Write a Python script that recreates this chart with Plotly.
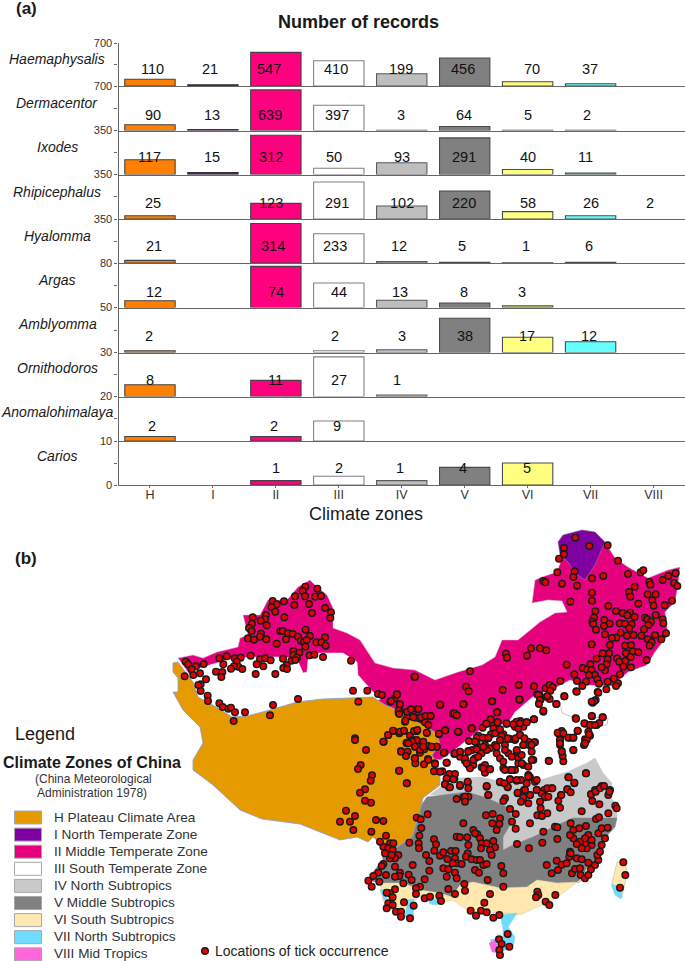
import numpy as np
import plotly.graph_objects as go

# ---------- part (a): records per genus and climate zone ----------
ZONES = ["H", "I", "II", "III", "IV", "V", "VI", "VII", "VIII"]
ZONE_COLORS = ["#ff8000", "#7f00a0", "#ff007f", "#ffffff", "#bebebe", "#808080", "#ffff80", "#66ffff", "rgba(0,0,0,0)"]
ZONE_EDGES = ["#444444", "#333333", "#444444", "#808080", "#5a5a5a", "#4a4a4a", "#4a4a4a", "#4a4a4a", "rgba(0,0,0,0)"]
GENERA = ["Haemaphysalis", "Dermacentor", "Ixodes", "Rhipicephalus", "Hyalomma", "Argas",
          "Amblyomma", "Ornithodoros", "Anomalohimalaya", "Carios"]
N = None
RECORDS = [
    [110, 21, 547, 410, 199, 456, 70, 37, N],
    [90, 13, 639, 397, 3, 64, 5, 2, N],
    [117, 15, 312, 50, 93, 291, 40, 11, N],
    [25, N, 123, 291, 102, 220, 58, 26, 2],
    [21, N, 314, 233, 12, 5, 1, 6, N],
    [12, N, 74, 44, 13, 8, 3, N, N],
    [2, N, N, 2, 3, 38, 17, 12, N],
    [8, N, 11, 27, 1, N, N, N, N],
    [2, N, 2, 9, N, N, N, N, N],
    [N, N, 1, 2, 1, 4, 5, N, N],
]
AXIS_TOPS = [700, 700, 350, 350, 350, 80, 50, 30, 20, 10]

# layout of the panels, in page pixels
W, H = 685, 961
PLOT_LEFT = 118.5
PANEL_EDGES = [43, 86, 130.5, 174.5, 219, 263, 307.5, 352.5, 396.5, 441, 485]
LABEL_ROWS = [69, 115, 157, 203, 246, 292, 336, 380, 426, 468]
GENUS_ROWS = [59, 103, 147, 192, 236, 280, 324, 368, 412, 456]
LABEL_SHIFTS = [
    [3, -3, -7, -2.5, -1, -1.5, 4, -1, 0],
    [3, -1, -6, -2, -1, -1, 0, -4, 0],
    [0, -1, -5, -5, 0, -1, 0, -5, 0],
    [3, 0, -5, -2, 0, -1, 0, 0, -4],
    [4, 0, -3, -4, -3, -3, -2, -2, 0],
    [4, 0, 0, 0, -2, -1, -6, 0, 0],
    [-1, 0, 0, -4, 0, 0, -1, -2, 0],
    [0, 0, 0, 0, -5, 0, 0, 0, 0],
    [2, 0, -2, -2, 0, 0, 0, 0, 0],
    [0, 0, 0, 0, -2, -2, -1, 0, 0],
]

# ---------- part (b): map zones, traced in map units ----------
ZONE_II = [(178,658),(193,655),(203,658),(217,652),(238,647),(240,638),(248,635),(243,615),(260,615),(268,600),
           (287,600),(298,587),(310,580),(315,585),(327,595),(333,608),(333,628),(347,633),(360,640),(368,652),
           (375,663),(393,668),(415,670),(435,680),(458,672),(482,665),(495,657),(502,640),(518,640),(540,622),
           (555,613),(567,612),(562,601),(548,600),(532,603),(535,580),(542,577),(557,572),(562,558),(558,542),
           (563,535),(582,530),(595,532),(605,542),(615,558),(628,567),(648,578),(668,570),(680,567),(678,585),
           (675,602),(665,612),(668,635),(655,652),(647,665),(628,672),(612,686),(585,685),(570,680),(555,688),
           (535,695),(515,712),(508,723),(482,728),(465,742),(452,752),(440,760),(430,758),(300,720),(190,675)]
ZONE_I = [(558,542),(563,535),(582,530),(595,532),(605,542),(595,565),(585,580),(575,573),(568,562),(560,555)]
ZONE_III_WEST = [(190,672),(203,667),(227,660),(250,657),(283,657),(297,659),(303,673),(307,672),(308,660),(317,653),
                 (343,653),(357,662),(358,675),(373,692),(382,698),(340,720),(230,730)]
ZONE_H = [(173,663),(178,662),(193,682),(198,697),(218,708),(232,717),(247,716),(270,710),(297,702),(323,699),
          (350,698),(373,697),(385,705),(402,712),(415,720),(427,728),(437,733),(440,745),(432,755),(440,770),
          (440,785),(423,798),(422,803),(418,818),(412,837),(397,847),(380,843),(373,837),(368,842),(357,837),
          (340,840),(320,832),(300,824),(262,819),(240,810),(213,785),(193,770),(193,760),(203,743),(200,727),
          (183,710),(173,692),(178,692),(178,678),(173,672)]
ZONE_IV = [(430,795),(440,787),(457,778),(480,777),(510,783),(540,780),(567,772),(587,763),(595,758),(603,773),
           (612,783),(610,797),(617,805),(617,818),(573,818),(553,827),(533,837),(513,845),(503,850),(503,837),
           (513,820),(507,807),(487,798),(467,792),(447,795)]
ZONE_V = [(420,807),(427,797),(467,792),(487,798),(507,807),(513,820),(503,837),(503,850),(513,845),(533,837),
          (553,827),(573,818),(617,818),(615,827),(603,840),(600,857),(588,868),(580,882),(557,883),(537,880),
          (527,887),(500,888),(473,882),(460,885),(452,897),(440,893),(420,890),(413,887),(403,883),(380,883),
          (368,880),(373,872),(383,860),(380,843),(397,847),(412,837)]
ZONE_VI = [(380,883),(403,883),(413,887),(420,890),(440,893),(452,897),(460,885),(473,882),(500,888),(527,887),
           (537,880),(557,883),(580,882),(588,866),(590,870),(580,880),(567,890),(553,900),(537,907),(520,915),
           (500,913),(487,912),(470,912),(453,900),(440,903),(433,898),(417,897),(413,907),(413,920),(405,917),
           (390,910),(383,900)]
ZONE_VI_ISLAND = [(617,862),(625,860),(627,873),(622,898),(612,883)]
ZONE_VII_PATCHES = [
    [(380,890),(385,889),(387,900),(384,900)],
    [(408,900),(414,899),(413,920),(405,917)],
    [(428,900),(438,899),(438,905),(430,904)],
    [(500,915),(517,913),(508,927),(515,937),(513,947),(500,952),(490,940),(503,937),(503,928)],
    [(611,884),(617,886),(622,892),(621,899),(615,895)],
]
ZONE_VIII = [(489,943),(495,940),(500,953),(492,952)]
COAST_LINES = [[(560,702),(562,713),(572,717),(575,713)], [(588,717),(608,718),(607,725),(595,726)]]

LEGEND_TITLES = ["H Plateau Climate Area", "I North Temperate Zone", "II Middle Temperate Zone",
                 "III South Temperate Zone", "IV North Subtropics", "V Middle Subtropics",
                 "VI South Subtropics", "VII North Subtropics", "VIII Mid Tropics"]
MAP_COLORS = ["#e59a00", "#7f00a0", "#e6007e", "#ffffff", "#c9c9c9", "#808080", "#ffe7ad", "#70dcff", "#ff66dd"]

# tick record locations, one list per sheet (sheet units = map units x 3)
SHEET_NW = [(466,185),(458,198),(502,191),(435,214),(465,214),(495,215),(513,213),(402,229),(368,228),(380,238),(365,246),(376,260),(433,240),(477,237),(525,249),(486,264),(543,262),(541,279),(403,277),(348,270),(345,282),(332,287),(308,277),(306,296),(350,301),(297,309),(305,318),(333,326),(391,318),(398,318),(414,325),(428,327),(467,314),(444,335),(480,333),(294,340),(312,344),(330,335),(349,343),(408,343),(453,347),(462,350),(470,345),(525,337),(499,352),(514,352),(527,362),(380,356),(466,365),(430,378),(448,383),(430,390),(302,392),(230,394),(208,400),(254,400),(272,398),(330,402),(345,400),(362,406),(399,401),(441,398),(479,391),(493,389),(519,396),(603,407),(107,410),(115,418),(138,424),(161,417),(220,418),(260,410),(320,418),(340,424),(424,407),(436,405),(410,420),(265,425),(252,424),(243,431),(277,432),(125,433),(150,445),(130,450),(217,441),(198,440),(214,456),(317,447),(376,447),(400,429),(411,432),(104,454),(168,463),(152,478),(145,480),(152,498),(609,497),(652,497),(684,507),(696,510),(173,512),(174,528),(208,535),(218,546),(235,551),(243,548),(255,562),(285,562),(369,540),(444,522),(625,530),(721,530),(733,521),(740,508),(749,539),(750,558),(746,564),(772,562),(803,553),(765,590),(772,575),(792,576),(360,571),(251,588),(793,455),(615,640),(701,650),(715,630),(730,618),(748,625),(761,618),(780,632),(800,618),(788,645),(800,650),(770,655)]
SHEET_NE = [(481,38),(523,63),(578,61),(447,69),(447,88),(432,101),(609,107),(427,142),(479,139),(475,156),(385,168),(391,172),(441,176),(486,182),(531,160),(565,153),(639,147),(677,142),(685,136),(782,145),(760,153),(743,165),(703,171),(706,179),(777,174),(787,183),(659,185),(642,201),(646,215),(698,208),(722,208),(531,203),(531,227),(466,230),(712,226),(716,242),(771,227),(749,241),(670,236),(580,243),(541,258),(603,258),(623,264),(645,263),(637,271),(659,276),(722,270),(537,278),(532,290),(535,297),(568,285),(584,296),(567,303),(614,295),(630,296),(650,298),(643,310),(690,278),(697,283),(708,290),(700,300),(743,283),(745,295),(687,313),(543,314),(570,328),(636,332),(617,323),(604,338),(591,339),(656,330),(679,332),(720,330),(753,325),(698,342),(739,343),(710,352),(704,362),(530,358),(585,360),(630,362),(648,360),(633,385),(654,379),(670,382),(348,370),(375,370),(394,376),(336,392),(273,386),(276,398),(563,385),(583,385),(578,403),(545,401),(606,400),(631,408),(647,396),(613,410),(695,405),(455,419),(526,418),(503,429),(516,434),(575,418),(625,425),(648,427),(570,436),(560,427),(530,435),(540,450),(522,450),(478,448),(615,448),(165,439),(0,455),(547,463),(597,461),(486,468),(436,468),(513,470),(552,476),(578,470),(609,475),(603,483),(574,493),(502,483),(153,485),(161,499),(263,495),(311,480),(357,484),(392,490),(404,480),(413,487),(406,497),(484,499),(548,501),(374,510),(366,508),(395,516),(404,522),(448,514),(314,524),(232,529),(146,538),(76,539),(10,552),(376,525),(372,535),(424,537),(542,525),(533,533),(385,560),(247,562),(114,566),(125,571),(47,574),(30,574),(17,581),(3,578),(482,580),(531,574),(563,577),(357,583),(227,584),(215,596),(203,608),(170,610),(91,616),(72,628),(131,621),(36,624),(5,618),(248,592),(275,597),(303,593),(316,588),(335,592),(300,605),(510,596),(527,600),(545,600),(553,594),(240,615),(228,628),(265,628),(315,630),(285,642),(300,645),(340,650),(360,652),(440,618),(430,625),(488,618),(436,640),(465,638),(475,638),(520,620),(510,643),(525,632),(190,632),(183,648),(205,638),(220,640)]
SHEET_CENTRE = [(18,33),(36,14),(45,43),(41,62),(67,65),(78,58),(100,57),(85,82),(61,92),(43,72),(108,82),(122,78),(137,78),(120,97),(130,105),(24,122),(9,135),(45,125),(57,122),(87,123),(97,120),(125,128),(162,131),(180,121),(219,125),(260,115),(208,70),(215,76),(165,44),(235,43),(321,34),(336,67),(403,28),(317,88),(304,101),(338,97),(65,158),(95,150),(82,155),(90,170),(105,170),(115,155),(130,168),(118,178),(140,172),(155,170),(105,188),(68,185),(48,183),(63,198),(89,205),(91,220),(117,223),(129,207),(150,220),(185,218),(178,188),(208,192),(225,186),(225,200),(250,183),(240,212),(262,180),(275,178),(252,153),(275,143),(293,143),(310,143),(325,115),(330,130),(345,118),(350,138),(368,145),(392,145),(405,135),(418,145),(360,165),(345,150),(330,165),(315,175),(300,165),(275,158),(290,190),(270,205),(250,225),(265,225),(255,235),(290,232),(300,225),(315,238),(300,248),(335,190),(345,205),(355,215),(370,190),(395,185),(400,205),(410,195),(440,185),(445,210),(415,165),(432,165),(448,157),(400,220),(415,225),(430,230),(375,240),(390,240),(355,235),(430,255),(147,244),(172,244),(42,242),(66,280),(185,267),(208,267),(193,252),(180,283),(192,292),(225,288),(248,278),(305,290),(345,277),(375,268),(395,272),(408,270),(368,292),(435,262),(450,275),(417,300),(398,310),(415,322),(435,315),(456,300),(478,300),(500,295),(547,298),(550,262),(568,280),(603,250),(491,212),(535,214),(565,181),(597,165),(605,150),(533,198),(530,183),(525,165),(525,150),(518,128),(535,130),(550,143),(565,143),(578,122),(598,100),(620,78),(615,105),(630,105),(653,82),(573,86),(612,133),(460,15),(465,30),(462,42),(475,62),(487,18),(514,42),(538,19),(575,5),(640,8),(628,33),(620,35),(310,315),(250,320),(235,322),(650,288),(630,300),(618,313),(675,300),(670,315),(360,325),(528,315),(480,322),(395,95),(415,110),(400,115),(385,103),(365,100),(425,97),(447,88),(405,100)]
SHEET_S = [(78,30),(183,35),(225,55),(265,60),(312,38),(320,68),(285,72),(300,95),(345,102),(340,118),(178,92),(96,106),(92,122),(200,130),(62,75),(54,87),(320,115),(315,133),(330,142),(360,135),(383,125),(385,145),(440,138),(445,165),(350,177),(375,170),(375,185),(75,148),(60,158),(75,182),(93,188),(18,212),(45,228),(30,245),(40,270),(108,240),(130,243),(94,275),(0,245),(263,223),(230,233),(242,238),(244,264),(370,250),(438,226),(458,222),(480,235),(457,250),(478,252),(470,270),(490,183),(510,207),(527,222),(516,245),(527,266),(570,250),(610,275),(645,260),(652,262),(652,297),(607,308),(531,312),(567,325),(238,287),(208,308),(236,310),(237,325),(282,298),(288,313),(283,332),(258,345),(268,363),(300,347),(310,337),(333,333),(347,333),(350,290),(360,292),(382,292),(412,283),(400,270),(405,280),(420,295),(425,310),(423,325),(440,310),(460,303),(465,322),(450,330),(455,345),(385,315),(383,340),(378,350),(395,358),(410,360),(322,357),(345,355),(350,370),(365,372),(338,370),(420,360),(430,375),(405,390),(417,398),(440,372),(484,378),(490,400),(443,420),(490,440),(373,432),(375,452),(450,462),(345,462),(325,447),(345,398),(350,415),(310,385),(325,388),(320,410),(268,392),(254,418),(218,375),(206,404),(215,420),(240,440),(228,445),(228,462),(254,475),(270,470),(298,467),(303,483),(190,430),(165,448),(150,460),(140,458),(158,472),(145,490),(158,495),(140,505),(168,515),(183,515),(183,530),(210,535),(192,487),(221,497),(130,320),(120,305),(138,287),(150,310),(160,310),(145,325),(158,330),(175,345),(165,355),(150,355),(135,340),(155,345),(165,380),(130,372),(125,378),(138,405),(115,398),(100,408),(85,422),(95,440),(118,425),(180,398),(178,408),(165,410),(592,455),(595,465),(588,472),(617,485),(628,495),(646,465),(392,512),(408,527),(423,512),(440,517),(433,488),(460,533),(478,525),(503,582),(477,598),(485,612),(478,630),(508,620),(480,645),(620,375),(635,400),(654,390),(650,362),(665,374),(688,350),(690,335),(692,340),(710,355),(680,370),(696,400),(705,387),(720,385),(722,405),(735,415),(745,405),(753,388),(765,375),(775,360),(772,345),(780,335),(745,368),(725,358),(785,315),(755,315),(740,325),(735,310),(725,325),(720,305),(710,312),(700,295),(690,285),(700,270),(692,250),(718,265),(738,258),(745,285),(735,295),(755,300),(775,280),(795,295),(785,265),(803,263),(725,214),(768,237),(777,232),(805,220),(826,197),(830,205),(757,183),(753,163),(767,155),(780,145),(792,138),(808,155),(778,193),(738,100),(686,112),(703,128),(682,148),(692,157),(664,165),(655,182),(660,203),(622,145),(637,145),(605,160),(590,150),(615,170),(625,170),(600,185),(602,205),(622,220),(592,226),(606,228),(570,165),(565,190),(543,185),(533,158),(555,150),(560,130),(590,120),(565,110),(530,120),(510,118),(503,140),(480,125),(493,130),(627,63),(665,35),(700,30),(660,10),(735,10),(850,367),(856,405),(840,443),(430,85),(450,88),(495,90),(545,70),(515,90),(575,60),(345,40),(360,35),(385,35),(375,55),(380,70),(400,60),(415,50),(440,30),(430,20),(470,20),(495,30),(515,50),(530,30),(550,15),(575,15),(405,5),(225,20),(240,30),(250,20),(205,10),(290,20),(275,20),(130,5),(45,0)]
SHEET_ORIGINS = [(150, 525), (415, 525), (385, 690), (340, 740)]
LEGEND_SITE = (205, 951)

FONT = "Liberation Sans"
TEXT = "#1a1a1a"
AXIS = "#666666"

fig = go.Figure()
layout = {}
annotations = []


def text(s, x, y, size, color=TEXT, bold=False, italic=False, xanchor="center"):
    s2 = f"<b>{s}</b>" if bold else s
    s2 = f"<i>{s2}</i>" if italic else s2
    annotations.append(dict(text=s2, xref="paper", yref="paper", x=x / W, y=1 - y / H, xanchor=xanchor,
                            yanchor="middle", showarrow=False, borderpad=0,
                            font=dict(family=FONT, size=size, color=color)))


# panels
for i, genus in enumerate(GENERA):
    n = i + 1
    suffix = "" if n == 1 else str(n)
    xname, yname = f"x{suffix}", f"y{suffix}"
    top_px, base_px = PANEL_EDGES[i], PANEL_EDGES[i + 1]
    top = AXIS_TOPS[i]
    last = i == len(GENERA) - 1
    fig.add_trace(go.Bar(x=ZONES, y=RECORDS[i], xaxis=xname, yaxis=yname, width=0.8,
                         marker=dict(color=ZONE_COLORS, line=dict(color=ZONE_EDGES, width=1.1)),
                         cliponaxis=False, hovertemplate=genus + " %{x}: %{y}<extra></extra>"))
    layout[f"xaxis{suffix}"] = dict(domain=[PLOT_LEFT / W, 1], anchor=yname, type="category",
                                    categoryorder="array", categoryarray=ZONES, range=[-0.5, 8.5],
                                    showgrid=False, zeroline=False, showline=True, linecolor=AXIS, linewidth=1.3,
                                    showticklabels=last, ticks="outside" if last else "", ticklen=2, tickcolor=AXIS,
                                    ticklabelstandoff=-4,
                                    tickfont=dict(family=FONT, size=12.5, color="#333333"))
    vals = [top / 2, top] + ([0] if last else [])
    labs = ["", str(top)] + (["0"] if last else [])
    layout[f"yaxis{suffix}"] = dict(domain=[1 - base_px / H, 1 - top_px / H], anchor=xname, range=[0, top],
                                    showgrid=False, zeroline=False, showline=True, linecolor=AXIS, linewidth=1.3,
                                    tickmode="array", tickvals=vals, ticktext=labs, ticks="outside", ticklen=3,
                                    tickcolor=AXIS, tickfont=dict(family=FONT, size=11, color="#333333"))
    frac = (base_px - LABEL_ROWS[i]) / (base_px - top_px)
    for j, v in enumerate(RECORDS[i]):
        if v is not None:
            annotations.append(dict(text=str(v), x=ZONES[j], xref=xname, y=frac, yref=f"{yname} domain",
                                    xshift=LABEL_SHIFTS[i][j], yanchor="middle", showarrow=False,
                                    font=dict(family=FONT, size=14.5, color="#111111")))
    text(genus, 57, GENUS_ROWS[i], 14, italic=True)

text("(a)", 26, 8, 17, bold=True)
text("Number of records", 358, 22, 18, bold=True)
text("Climate zones", 366, 514, 18)
text("(b)", 26, 558, 17, bold=True)

# map
MAP = dict(xaxis="x11", yaxis="y11", hoverinfo="skip")
layout["xaxis11"] = dict(domain=[0, 1], range=[0, W], visible=False, anchor="y11", fixedrange=True)
layout["yaxis11"] = dict(domain=[0, 1], range=[H, 0], visible=False, anchor="x11", fixedrange=True)


def zone(points, fill, edge="#a0a0a0", width=0.6):
    xs, ys = zip(*points)
    fig.add_trace(go.Scatter(x=list(xs) + [xs[0]], y=list(ys) + [ys[0]], mode="lines", fill="toself",
                             fillcolor=fill, line=dict(color=edge, width=width), **MAP))


zone(ZONE_II, MAP_COLORS[2], "#c8c8c8", 0.5)
zone(ZONE_I, MAP_COLORS[1], "#a08ab0", 0.5)
zone(ZONE_III_WEST, MAP_COLORS[3], "#ffffff", 0.5)
zone(ZONE_IV, MAP_COLORS[4], "#c9c9c9", 0.5)
zone(ZONE_V, MAP_COLORS[5], "#808080", 0.5)
zone(ZONE_VI, MAP_COLORS[6], "#d0c8a8", 0.5)
zone(ZONE_VI_ISLAND, MAP_COLORS[6], "#b0b0b0", 0.5)
for patch in ZONE_VII_PATCHES:
    zone(patch, MAP_COLORS[7], "#90c8e0", 0.5)
zone(ZONE_VIII, MAP_COLORS[8], "#b0b0b0", 0.5)
zone(ZONE_H, MAP_COLORS[0], "#8aa2dc", 0.9)
for line in COAST_LINES:
    xs, ys = zip(*line)
    fig.add_trace(go.Scatter(x=xs, y=ys, mode="lines", line=dict(color="#b8b8b8", width=0.8), **MAP))

site_x, site_y = [], []
for sheet, (ox, oy) in zip([SHEET_NW, SHEET_NE, SHEET_CENTRE, SHEET_S], SHEET_ORIGINS):
    arr = np.array(sheet, dtype=float) / 3
    site_x.extend(arr[:, 0] + ox)
    site_y.extend(arr[:, 1] + oy)
SITE_MARKER = dict(color="#e60000", size=6.6, line=dict(color="#1a1a1a", width=1.4))
fig.add_trace(go.Scatter(x=site_x, y=site_y, mode="markers", marker=SITE_MARKER, **MAP))
fig.add_trace(go.Scatter(x=[LEGEND_SITE[0]], y=[LEGEND_SITE[1]], mode="markers", marker=SITE_MARKER, **MAP))

# legend
text("Legend", 45, 734, 18)
text("Climate Zones of China", 92, 762, 16, bold=True)
text("(China Meteorological", 93, 779, 12, color="#333333")
text("Administration 1978)", 92, 793, 12, color="#333333")
shapes = []
for k, name in enumerate(LEGEND_TITLES):
    cy = 817.5 + k * 17.1
    shapes.append(dict(type="rect", xref="paper", yref="paper", x0=14.5 / W, x1=41.5 / W,
                       y0=1 - (cy + 6.5) / H, y1=1 - (cy - 6.5) / H, fillcolor=MAP_COLORS[k],
                       line=dict(color="#9aa8cc" if k == 0 else "#a8a8a8", width=1)))
    text(name, 52.5, cy - 0.5, 13.6, color="#333333", xanchor="left")
text("Locations of tick occurrence", 214, 951, 14, color="#222222", xanchor="left")

fig.update_layout(width=W, height=H, margin=dict(l=0, r=0, t=0, b=0, autoexpand=False), showlegend=False,
                  paper_bgcolor="white", plot_bgcolor="rgba(0,0,0,0)", annotations=annotations, shapes=shapes,
                  font=dict(family=FONT), **layout)
fig.write_html("out.html", post_script="document.body.style.margin='0';", config=dict(displayModeBar=False))
